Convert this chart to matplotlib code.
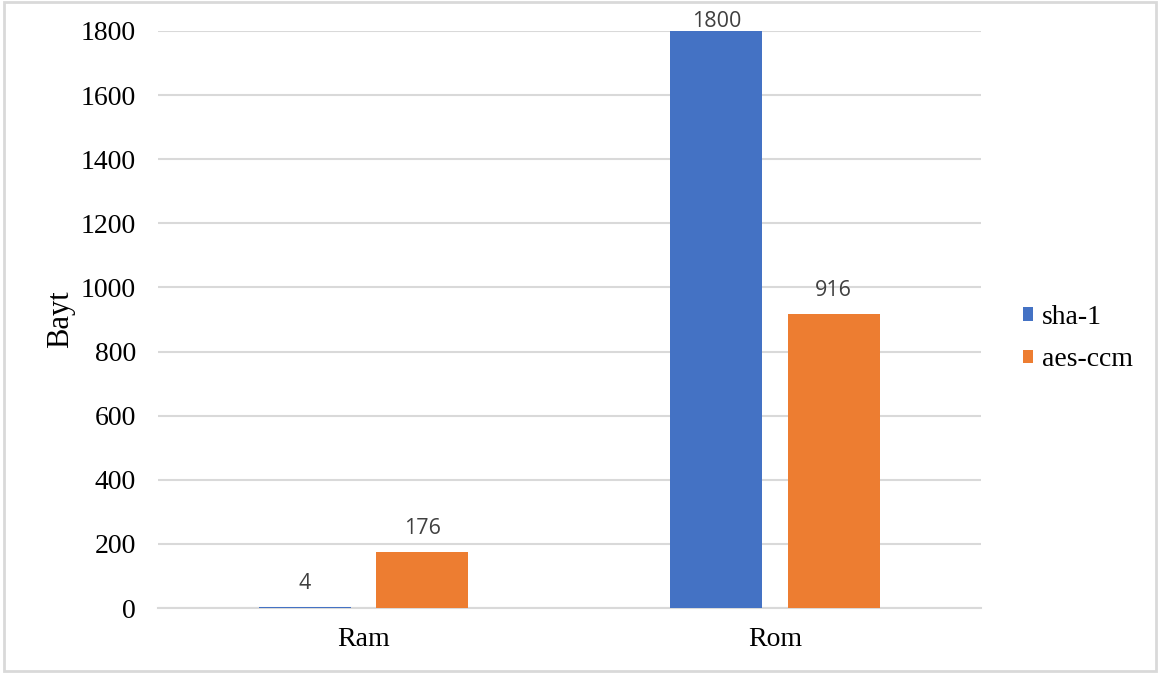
import matplotlib
matplotlib.use("Agg")
import matplotlib.pyplot as plt
from matplotlib.patches import Rectangle
from matplotlib.font_manager import FontProperties
import numpy as np

categories = ["Ram", "Rom"]
series_names = ["sha-1", "aes-ccm"]
sha1_values = [4, 1800]
aesccm_values = [176, 916]
yticks = [0, 200, 400, 600, 800, 1000, 1200, 1400, 1600, 1800]
colors = ["#4472C4", "#ED7D31"]

serif = FontProperties(family="Liberation Serif", size=20)

fig = plt.figure(figsize=(11.61, 6.75), dpi=100)
ax = fig.add_axes([158 / 1161, 1 - 608 / 675, (981 - 158) / 1161, (608 - 31) / 675])

ymax = yticks[-1]
x = np.arange(len(categories))
width = 0.224
offsets = [-0.143, 0.142]
for vals, off, col, name in zip([sha1_values, aesccm_values], offsets, colors, series_names):
    bars = ax.bar(x + off, vals, width=width, color=col, label=name, zorder=3)
    for b, v in zip(bars, vals):
        # labels at the top of the value range are tucked in closer to the bar
        dy = 3 if v >= ymax else 13
        ax.annotate(str(v), (b.get_x() + b.get_width() / 2, v), xytext=(0, dy),
                    textcoords="offset points", ha="center", va="baseline",
                    fontsize=15.5, color="#404040", family="Open Sans",
                    annotation_clip=False)

ax.set_xlim(-0.5, 1.5)
ax.set_ylim(0, ymax)
ax.set_yticks(yticks)
ax.set_yticklabels([str(t) for t in yticks], fontproperties=serif)
ax.set_xticks(x)
ax.set_xticklabels(categories, fontproperties=serif)
ax.tick_params(axis="both", length=0)
ax.tick_params(axis="y", pad=16)
ax.tick_params(axis="x", pad=14)
ax.grid(axis="y", color="#D9D9D9", linewidth=1.5, zorder=0)
for s in ["top", "right", "left"]:
    ax.spines[s].set_visible(False)
ax.spines["bottom"].set_color("#D9D9D9")
ax.spines["bottom"].set_linewidth(1.5)
ax.spines["bottom"].set_zorder(1)
ax.set_ylabel("Bayt", family="Liberation Serif", fontsize=22, labelpad=4)

ax.legend(loc="center left", bbox_to_anchor=(1.038, 0.467), frameon=False,
          borderaxespad=0, borderpad=0.4, prop=serif,
          handlelength=0.36, handleheight=0.36, handletextpad=0.32, labelspacing=0.62)

fig.patches.append(Rectangle((4 / 1161, 4 / 675), 1152 / 1161, 669 / 675,
                             transform=fig.transFigure, fill=False,
                             edgecolor="#D9D9D9", linewidth=2))

fig.savefig("out.png", dpi=100)
